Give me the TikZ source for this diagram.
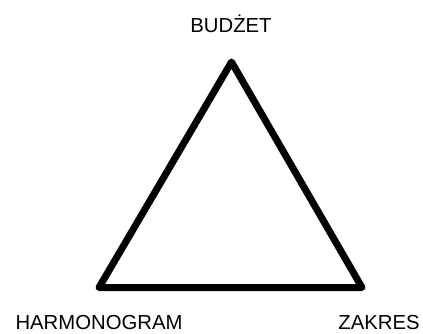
\documentclass[tikz,border=0pt]{standalone}
\usepackage{fontspec}
\setmainfont{Liberation Sans}
\usetikzlibrary{positioning}
\tikzset{
  cornerlabel/.style={
    inner sep=0pt,
    font=\fontsize{20.3}{24}\selectfont
  },
  triline/.style={line width=7pt,line join=round,draw=black}
}

\begin{document}
\begin{tikzpicture}[x=1pt,y=-1pt]
\useasboundingbox (0,0) rectangle (423,334);
\coordinate (top) at (231.5,62);
\coordinate (left) at (99,287.5);
\coordinate (right) at (362,287.5);
\draw[triline] (top) -- (left) -- (right) -- cycle;
\node[cornerlabel] (budzet) at (231,24) {BUDŻET};
\node[cornerlabel] (harm) at (99,322.5) {HARMONOGRAM};
\node[cornerlabel] (zakres) at (379,322.5) {ZAKRES};
\end{tikzpicture}
\end{document}
